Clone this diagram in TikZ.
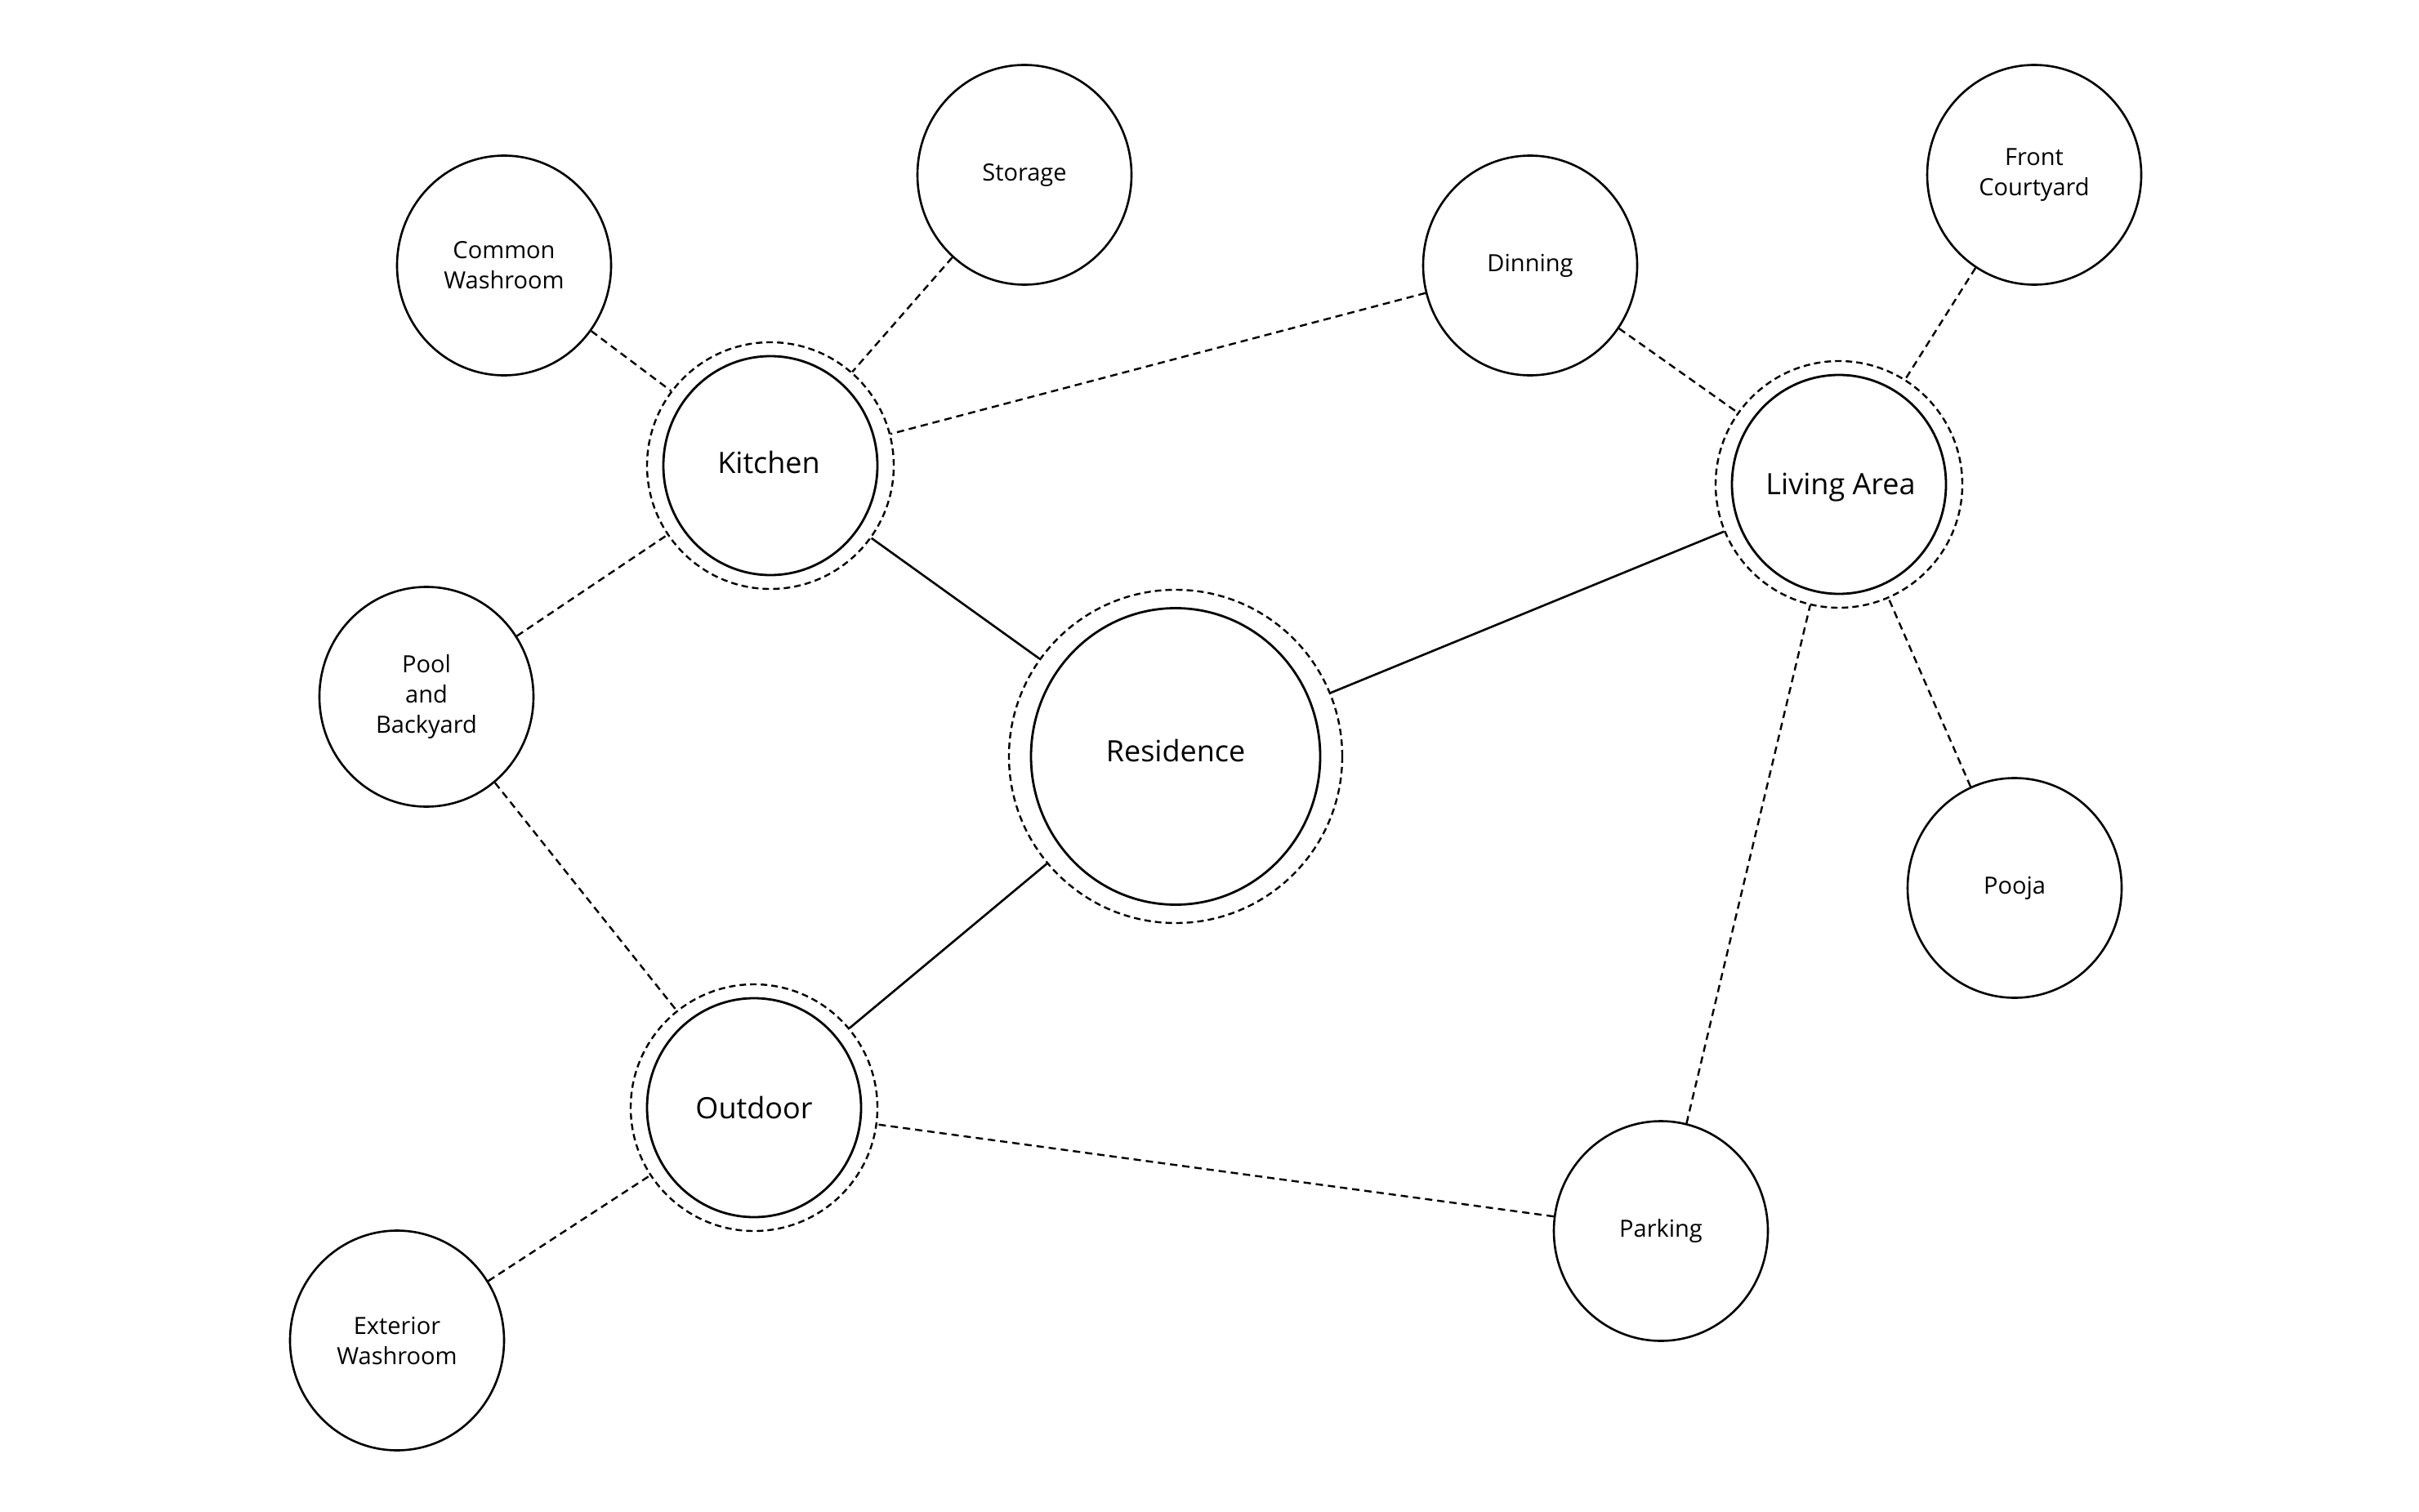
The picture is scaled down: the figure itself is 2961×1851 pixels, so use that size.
\documentclass[tikz,border=0pt]{standalone}
\usepackage{fontspec}
\setmainfont{Open Sans}
\usetikzlibrary{shapes.geometric}
\begin{document}
\begin{tikzpicture}[x=1pt,y=-1pt,
  room/.style={draw, ellipse, line width=2.6pt, minimum width=262pt, minimum height=269pt,
    inner sep=0pt, align=center, font=\fontsize{29}{37}\selectfont},
  hub/.style={draw, ellipse, line width=2.8pt, minimum width=262pt, minimum height=268pt,
    inner sep=0pt},
  hubtext/.style={inner sep=0pt, font=\fontsize{36}{44}\selectfont},
  ring/.style={draw, circle, line width=2.4pt, dash pattern=on 8pt off 5pt,
    minimum size=302pt, inner sep=0pt},
  link/.style={line width=2.4pt, dash pattern=on 9pt off 6pt},
  tie/.style={line width=2.6pt}]
\useasboundingbox (0,0) rectangle (2961,1851);

% major hubs (outer dashed ring + inner circle + label)
\node[ring] (kitchen) at (943,570) {};
\node[hub] (kitchenIn) at (kitchen.center) {};
\node[hubtext] (kitchenTxt) at (941,566) {Kitchen};

\node[ring] (living) at (2251,593) {};
\node[hub] (livingIn) at (living.center) {};
\node[hubtext] (livingTxt) at (2253,597) {Living Area};

\node[ring] (outdoor) at (923,1356) {};
\node[hub] (outdoorIn) at (outdoor.center) {};
\node[hubtext] (outdoorTxt) at (923,1356) {Outdoor};

\node[ring, minimum size=408pt] (residence) at (1439,926) {};
\node[hub, minimum width=354pt, minimum height=363pt] (residenceIn) at (residence.center) {};
\node[hubtext] (residenceTxt) at (1439,919) {Residence};

% rooms
\node[room] (washroom) at (617,325) {Common\\Washroom};
\node[room] (storage) at (1254,214) {Storage};
\node[room] (dinning) at (1873,325) {Dinning};
\node[room] (courtyard) at (2490,214) {Front\\Courtyard};
\node[room] (pool) at (522,853) {Pool\\and\\Backyard};
\node[room] (pooja) at (2466,1087) {Pooja};
\node[room] (parking) at (2033,1507) {Parking};
\node[room] (exterior) at (486,1641) {Exterior\\Washroom};

% solid ties
\draw[tie] (kitchen) -- (residence);
\draw[tie] (residence) -- (living);
\draw[tie] (residence) -- (outdoor);

% dashed links
\draw[link] (washroom) -- (kitchen);
\draw[link] (storage) -- (kitchen);
\draw[link] (dinning) -- (kitchen);
\draw[link] (pool) -- (kitchen);
\draw[link] (dinning) -- (living);
\draw[link] (courtyard) -- (living);
\draw[link] (pooja) -- (living);
\draw[link] (parking) -- (living);
\draw[link] (pool) -- (outdoor);
\draw[link] (exterior) -- (outdoor);
\draw[link] (parking) -- (outdoor);
\end{tikzpicture}
\end{document}
